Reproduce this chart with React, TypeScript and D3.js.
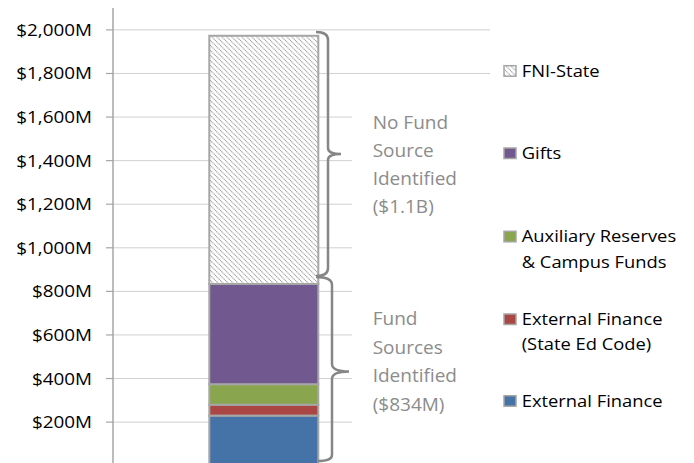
import React from "react";
import * as d3 from "d3";

const seriesNames = [
  "External Finance",
  "External Finance (State Ed Code)",
  "Auxiliary Reserves & Campus Funds",
  "Gifts",
  "FNI-State",
];
const seriesValues = [230, 50, 94, 460, 1139]; // $M, bottom to top
const seriesColors = ["#4572A7", "#AA4643", "#89A54E", "#71588F", "url(#hatch)"];
const tickValues = [200, 400, 600, 800, 1000, 1200, 1400, 1600, 1800, 2000];
const tickLabels = tickValues.map((v) => `$${d3.format(",")(v)}M`);

const legendItems = [
  { lines: ["FNI-State"], idx: 4, base: 76.7 },
  { lines: ["Gifts"], idx: 3, base: 159 },
  { lines: ["Auxiliary Reserves", "& Campus Funds"], idx: 2, base: 242.3 },
  { lines: ["External Finance", "(State Ed Code)"], idx: 1, base: 325 },
  { lines: ["External Finance"], idx: 0, base: 406.7 },
];

const noFundLines = ["No Fund", "Source", "Identified", "($1.1B)"];
const fundLines = ["Fund", "Sources", "Identified", "($834M)"];

export default function App() {
  const W = 694;
  const H = 463;
  const y = d3.scaleLinear().domain([0, 2000]).range([465.7, 29.9]);
  const x = d3.scaleBand().domain(["FY"]).range([113, 414.5]).paddingInner(0).paddingOuter(0.32);
  const stack = d3.stack<number[]>().keys(seriesValues.map((_, i) => String(i))).value((d, k) => d[+k]);
  const stacked = stack([seriesValues]);
  const font = "'Open Sans', sans-serif";
  const bx = 209.3;
  const bw = 109;
  const gray = "#a6a6a6";

  return (
    <svg width={W} height={H} style={{ position: "absolute", left: 0, top: 0, background: "#fff" }}>
      <defs>
        <pattern id="hatch" patternUnits="userSpaceOnUse" width="5" height="5">
          <rect width="5" height="5" fill="#fff" />
          <path d="M0,0 L5,5 M-1,4 L1,6 M4,-1 L6,1" stroke="#9a9a9a" strokeWidth="1.1" strokeDasharray="1.2,0.6" />
        </pattern>
      </defs>
      {/* gridlines */}
      {tickValues.map((t) => (
        <line key={"g" + t} x1={113} x2={490} y1={y(t)} y2={y(t)} stroke="#d0d0d0" strokeWidth={1} />
      ))}
      {/* axis */}
      <line x1={113} x2={113} y1={8} y2={H} stroke={gray} strokeWidth={1.5} />
      {tickValues.map((t) => (
        <line key={"t" + t} x1={106} x2={113} y1={y(t)} y2={y(t)} stroke={gray} strokeWidth={1.2} />
      ))}
      {tickValues.map((t, i) => (
        <text
          key={"l" + t}
          transform={`translate(92,${y(t) + 6}) scale(1.18,1)`}
          textAnchor="end"
          fontFamily={font}
          fontSize={16}
          fill="#000"
        >
          {tickLabels[i]}
        </text>
      ))}
      {/* bars */}
      {stacked.map((s, i) => {
        const d = s[0];
        return (
          <rect
            key={"b" + i}
            x={bx}
            width={bw}
            y={y(d[1])}
            height={y(d[0]) - y(d[1])}
            fill={seriesColors[i]}
            stroke={gray}
            strokeWidth={2}
          />
        );
      })}
      {/* white boxes of annotation text */}
      <rect x={352} y={88} width={140} height={H - 88} fill="#fff" />
      {/* braces */}
      <path
        d="M316,32 Q328,32 328,40 V148 Q328,154 341,154 Q328,154 328,160 V268 Q328,276 316,276"
        fill="none"
        stroke="#868686"
        strokeWidth={2.5}
      />
      <path
        d="M316,277 Q332,277 332,285 V364 Q332,371.5 349,371.5 Q332,371.5 332,379 V455 Q332,461 318,461"
        fill="none"
        stroke="#868686"
        strokeWidth={2.5}
      />
      {noFundLines.map((t, i) => (
        <text key={"nf" + i} x={372.7} y={129.3 + i * 28} fontFamily={font} fontSize={19} fill="#8c8c8c">
          {t}
        </text>
      ))}
      {fundLines.map((t, i) => (
        <text key={"f" + i} x={372.7} y={325 + i * 28.5} fontFamily={font} fontSize={19} fill="#8c8c8c">
          {t}
        </text>
      ))}
      {/* legend */}
      {legendItems.map((it) => (
        <g key={"lg" + it.idx}>
          <rect
            x={504}
            y={it.base - 11}
            width={12}
            height={10.5}
            fill={seriesColors[it.idx]}
            stroke={gray}
            strokeWidth={1.5}
          />
          {it.lines.map((ln, j) => (
            <text
              key={j}
              transform={`translate(521.7,${it.base + j * 25.4}) scale(1.08,1)`}
              fontFamily={font}
              fontSize={17}
              fill="#000"
            >
              {ln}
            </text>
          ))}
        </g>
      ))}
    </svg>
  );
}
